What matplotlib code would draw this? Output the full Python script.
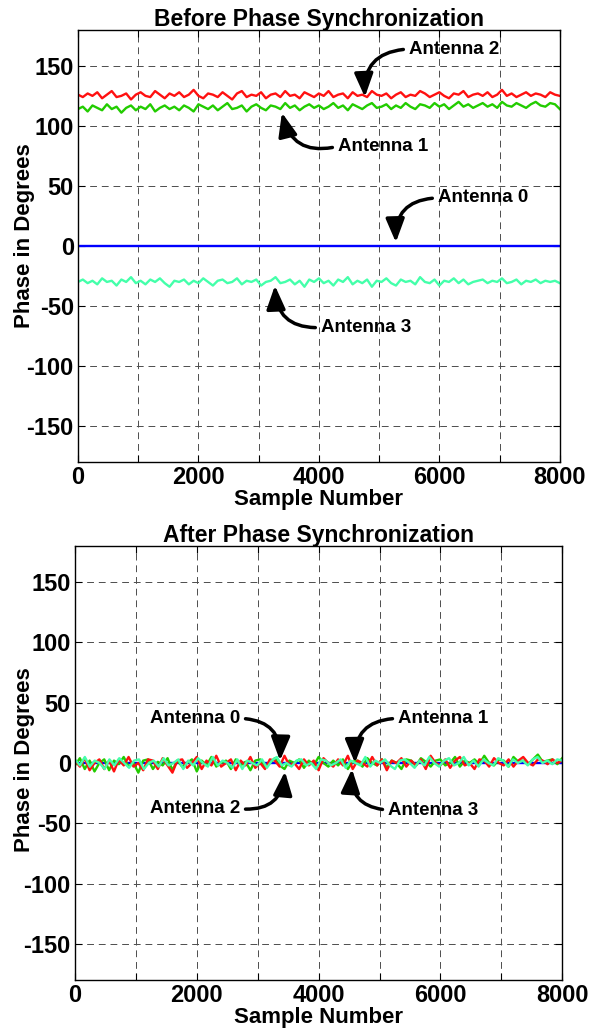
import numpy as np
import matplotlib
matplotlib.use('Agg')
from matplotlib import pyplot as plt

plt.rcParams['font.family'] = ['Liberation Sans', 'DejaVu Sans']
plt.rcParams['axes.unicode_minus'] = False

# phase readings (degrees), evenly spaced over 0..8000 samples
before_ant0 = [0, 0]
before_ant1 = [114, 116, 112, 117, 115, 113, 118, 114, 116, 111, 115, 117, 113, 116, 114, 118, 112, 115, 117, 114,
               116, 113, 117, 115, 112, 118, 116, 114, 117, 113, 116, 119, 114, 115, 117, 112, 116, 118, 115, 113,
               117, 116, 114, 119, 115, 117, 113, 116, 118, 115, 117, 114, 116, 119, 115, 117, 113, 118, 116, 114,
               117, 119, 115, 116, 118, 114, 117, 115, 119, 116, 114, 118, 117, 115, 119, 116, 118, 114, 117, 120,
               116, 118, 115, 117, 119, 116, 118, 115, 120, 117, 116, 119, 117, 115, 118, 120, 117, 116, 119, 118, 114]
before_ant2 = [126, 124, 127, 125, 128, 123, 126, 129, 124, 125, 127, 122, 126, 128, 125, 124, 129, 126, 123, 127,
               125, 128, 124, 126, 130, 125, 123, 127, 126, 124, 128, 125, 122, 127, 129, 124, 126, 125, 128, 123,
               126, 127, 124, 129, 125, 126, 123, 128, 126, 124, 127, 125, 129, 124, 126, 127, 123, 128, 125, 126,
               124, 129, 126, 125, 127, 123, 126, 128, 124, 126, 125, 129, 127, 124, 126, 128, 125, 123, 127, 126,
               129, 124, 126, 127, 125, 128, 124, 126, 130, 125, 127, 124, 126, 128, 125, 127, 126, 124, 128, 126, 125]
before_ant3 = [-30, -28, -31, -29, -32, -27, -30, -29, -33, -28, -30, -26, -31, -29, -32, -28, -30, -27, -31, -34,
               -29, -30, -28, -32, -29, -31, -27, -30, -33, -29, -28, -31, -30, -27, -32, -29, -30, -28, -33, -30,
               -29, -26, -31, -30, -28, -32, -29, -34, -28, -30, -27, -31, -29, -33, -28, -30, -26, -32, -29, -31,
               -28, -34, -29, -30, -27, -31, -33, -28, -30, -29, -32, -26, -30, -31, -28, -33, -29, -30, -27, -31,
               -28, -32, -30, -29, -28, -31, -29, -30, -27, -31, -30, -28, -32, -29, -30, -28, -31, -29, -30, -29, -31]

after_ant0 = [0, 0]
after_ant1 = [-2, 4, -5, 2, -7, 0, 3, -6, 2, -1, 5, -3, 0, -8, 2, 3, -5, 1, -2, 4, -6, 2, -3, 0, 3, -7, 2, -2, 5, -3,
              0, 2, -5, 3, -2, 1, -6, 2, 3, -3, 0, 4, -2, -5, 2, 0, 3, -4, 2, -2, 5, 0, -3, 2, -2, 3, -5, 1, 2, -3,
              4, 0, -2, 3, -4, 2, 0, -5, 3, 2, -2, 4, 1, -3, 2, 3, -2, 0, 5, -3, 2, 0, 3, -1, 6, 0, -2, 3, 2, -3,
              5, 1, 2, -1, 3, 7, 1, 2, 3, -1, 4]
after_ant2 = [2, -3, 4, -6, 0, 3, -5, 2, -7, 3, -2, 5, -3, 0, -6, 3, 2, -5, 4, -2, -8, 2, 3, -4, 0, 5, -5, 2, -2, 6,
              -3, 0, 3, -6, 2, -2, 5, -4, 0, -5, 3, 2, -3, 6, -2, 0, -5, 3, -2, 2, -6, 4, 0, -3, 3, -2, 6, -5, 2, 0,
              -3, 5, -2, 3, -6, 2, 0, 4, -3, 2, -2, 3, -5, 6, 0, -2, 3, -4, 2, 5, -2, 0, -5, 3, 2, -3, 4, 0, -2, 3,
              -3, 2, 5, 0, -2, 3, 2, -1, 3, 0, 2]
after_ant3 = [3, -2, 5, -3, 2, 0, -5, 3, -2, 4, 0, -4, 2, 3, -5, 0, 2, -3, 4, -2, 0, 3, -5, 2, -2, 4, 0, -3, 5, -2,
              2, 0, -4, 3, -5, 2, 0, -2, 3, -4, 2, 5, -2, 0, -3, 2, 3, -2, 0, -5, 3, 2, -2, 0, 3, -4, 2, 0, -2, 5,
              -3, 2, 0, 3, -2, -5, 2, 3, 0, -4, 2, -2, 5, 0, -3, 2, 4, -2, 0, 5, -2, 2, -3, 3, 0, -2, 4, 2, -3, 3,
              0, 2, -2, 3, 5, 0, 2, -1, 3, 2]

x_ticks = [0, 1000, 2000, 3000, 4000, 5000, 6000, 7000, 8000]
x_tick_labels = ['0', '', '2000', '', '4000', '', '6000', '', '8000']
y_ticks = [-150, -100, -50, 0, 50, 100, 150]

colors = ['#0000ff', '#22cc00', '#ff1010', '#44ffaa']

# (label, text x, text y, tip x, tip y, text alignment, curvature)
before_notes = [('Antenna 2', 5494, 164, 4763, 124, 'left', 0.5),
                ('Antenna 1', 4315, 83, 3386, 111, 'left', -0.5),
                ('Antenna 0', 5975, 40, 5278, 3, 'left', 0.5),
                ('Antenna 3', 4033, -68, 3270, -33, 'left', -0.5)]
after_notes = [('Antenna 0', 2709, 37, 3366, 2, 'right', -0.5),
               ('Antenna 1', 5304, 37, 4598, 0, 'left', 0.5),
               ('Antenna 2', 2709, -38, 3448, -7, 'right', 0.5),
               ('Antenna 3', 5140, -39, 4548, -5, 'left', -0.5)]


def draw_panel(ax, series, title, notes, ylabel_xy):
    for y, c in zip(series, colors):
        ax.plot(np.linspace(0, 8000, len(y)), y, color=c, lw=1.7)
    ax.set_xlim(0, 8000)
    ax.set_ylim(-180, 180)
    ax.set_xticks(x_ticks)
    ax.set_xticklabels(x_tick_labels)
    ax.set_yticks(y_ticks)
    ax.tick_params(direction='in', top=True, right=True, labelsize=17, length=5, width=0.8, pad=3)
    for lab in ax.get_xticklabels() + ax.get_yticklabels():
        lab.set_fontweight('bold')
    ax.grid(True, color='0.3', linestyle=(0, (7, 5)), lw=0.7)
    for s in ax.spines.values():
        s.set_linewidth(1.0)
    ax.set_title(title, fontsize=16.5, fontweight='bold', pad=3)
    ax.set_xlabel('Sample Number', fontsize=16, fontweight='bold', labelpad=0)
    ax.set_ylabel('Phase in Degrees', fontsize=16, fontweight='bold')
    ax.yaxis.set_label_coords(*ylabel_xy)
    for label, tx, ty, px, py, ha, rad in notes:
        ax.annotate(label, xy=(px, py), xytext=(tx, ty), ha=ha, va='center', fontsize=13.5, fontweight='bold',
                    arrowprops=dict(arrowstyle='-|>,head_length=0.95,head_width=0.38', mutation_scale=15,
                                    color='black', lw=2.5, shrinkA=2, shrinkB=0,
                                    relpos=(0, 0.5) if ha == 'left' else (1, 0.5),
                                    connectionstyle='arc3,rad=%s' % rad))


fig = plt.figure(figsize=(6, 10.29), dpi=100)
ax1 = fig.add_axes([0.13, 0.551, 0.803, 0.42])
ax2 = fig.add_axes([0.125, 0.0476, 0.812, 0.4218])

draw_panel(ax1, [before_ant0, before_ant1, before_ant2, before_ant3], 'Before Phase Synchronization',
           before_notes, (-0.09, 0.523))
draw_panel(ax2, [after_ant0, after_ant1, after_ant2, after_ant3], 'After Phase Synchronization',
           after_notes, (-0.083, 0.507))

fig.savefig('out.png', dpi=100)
